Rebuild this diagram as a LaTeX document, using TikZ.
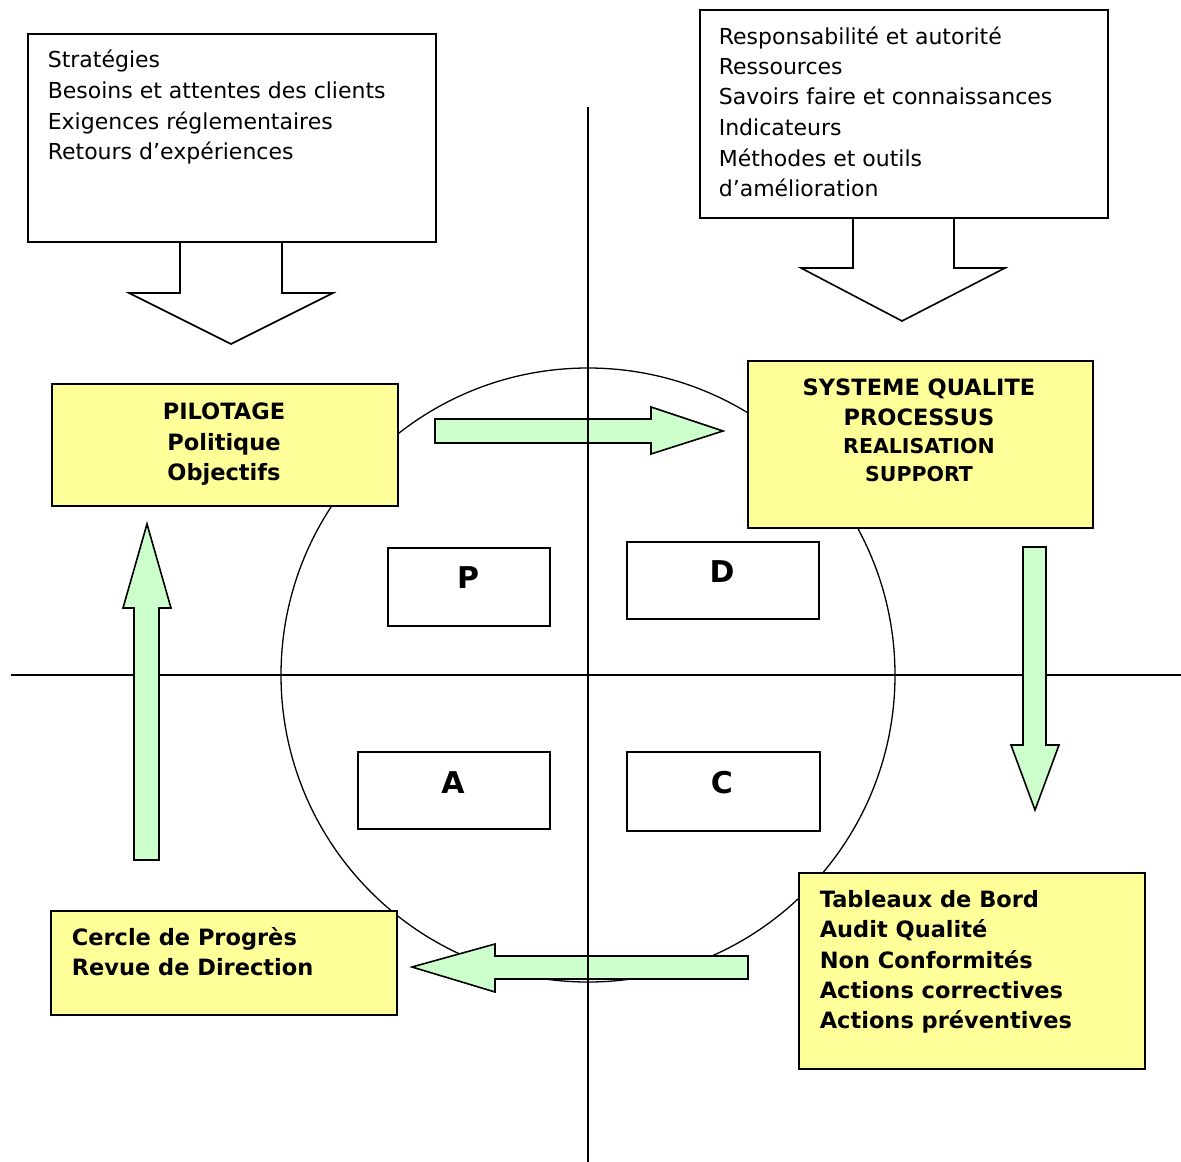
\documentclass[tikz,border=0pt]{standalone}
\usepackage{fontspec}
\setmainfont{DejaVu Sans}
\definecolor{yel}{HTML}{FFFF99}
\definecolor{grn}{HTML}{CCFFCC}
\begin{document}
\begin{tikzpicture}[x=1pt,y=-1pt,line width=1.6pt,
  reg/.style={font=\fontsize{22}{26}\selectfont, inner sep=0pt, anchor=base west},
  bldl/.style={font=\fontsize{22.5}{26}\selectfont\bfseries, inner sep=0pt, anchor=base west},
  bldc/.style={font=\fontsize{22.5}{26}\selectfont\bfseries, inner sep=0pt, anchor=base},
  bldsc/.style={font=\fontsize{20.5}{24}\selectfont\bfseries, inner sep=0pt, anchor=base},
  letter/.style={font=\fontsize{30}{34}\selectfont\bfseries, inner sep=0pt, anchor=base},
  whitebox/.style={draw, fill=white, inner sep=0pt, anchor=north west},
  yelbox/.style={draw, fill=yel, inner sep=0pt, anchor=north west},
  garrow/.style={draw, fill=grn, line join=miter}]
\useasboundingbox (0,0) rectangle (1181,1162);

% circle and horizontal axis
\node[draw, circle, minimum size=614pt, inner sep=0pt, line width=1.3pt] (cyc) at (588,675) {};
\coordinate (hl) at (11,675);
\coordinate (hr) at (1181,675);
\draw (hl) -- (hr);

% green arrows
\draw[garrow] (435,419) -- (651,419) -- (651,407) -- (723,431) -- (651,454) -- (651,443) -- (435,443) -- cycle;
\draw[garrow] (1023,547) -- (1046,547) -- (1046,745) -- (1059,745) -- (1035,810) -- (1011,745) -- (1023,745) -- cycle;
\draw[garrow] (748,956) -- (495,956) -- (495,944) -- (412,967) -- (495,992) -- (495,979) -- (748,979) -- cycle;
\draw[garrow] (134,860) -- (134,608) -- (123,608) -- (147,524) -- (171,608) -- (159,608) -- (159,860) -- cycle;

% vertical axis
\coordinate (vt) at (588,107);
\coordinate (vb) at (588,1162);
\draw (vt) -- (vb);

% top-left callout
\node[whitebox, minimum width=408pt, minimum height=208pt] (cl) at (27,33) {};
\draw[line join=miter] (180,241) -- (180,293) -- (129,293) -- (231,344) -- (333,293) -- (282,293) -- (282,241);
\node[reg] (cl1) at (47,67) {Stratégies};
\node[reg] (cl2) at (47,98) {Besoins et attentes des clients};
\node[reg] (cl3) at (47,129) {Exigences réglementaires};
\node[reg] (cl4) at (47,159) {Retours d’expériences};

% top-right callout
\node[whitebox, minimum width=408pt, minimum height=208pt] (cr) at (699,9) {};
\draw[line join=miter] (853,217) -- (853,268) -- (801,268) -- (902,321) -- (1005,268) -- (954,268) -- (954,217);
\node[reg] (cr1) at (718,44) {Responsabilité et autorité};
\node[reg] (cr2) at (718,74) {Ressources};
\node[reg] (cr3) at (718,104) {Savoirs faire et connaissances};
\node[reg] (cr4) at (718,135) {Indicateurs};
\node[reg] (cr5) at (718,166) {Méthodes et outils};
\node[reg] (cr6) at (718,196) {d’amélioration};

% yellow boxes
\node[yelbox, minimum width=346pt, minimum height=122pt] (pil) at (51,383) {};
\node[bldc] (pil1) at (224,419) {PILOTAGE};
\node[bldc] (pil2) at (224,450) {Politique};
\node[bldc] (pil3) at (224,480) {Objectifs};

\node[yelbox, minimum width=345pt, minimum height=167pt] (sq) at (747,360) {};
\node[bldc] (sq1) at (919,395) {SYSTEME QUALITE};
\node[bldc] (sq2) at (919,425) {PROCESSUS};
\node[bldsc] (sq3) at (919,453) {REALISATION};
\node[bldsc] (sq4) at (919,481) {SUPPORT};

\node[yelbox, minimum width=346pt, minimum height=196pt] (tb) at (798,872) {};
\node[bldl] (tb1) at (819,907) {Tableaux de Bord};
\node[bldl] (tb2) at (819,937) {Audit Qualité};
\node[bldl] (tb3) at (819,968) {Non Conformités};
\node[bldl] (tb4) at (819,998) {Actions correctives};
\node[bldl] (tb5) at (819,1028) {Actions préventives};

\node[yelbox, minimum width=346pt, minimum height=104pt] (cp) at (50,910) {};
\node[bldl] (cp1) at (71,945) {Cercle de Progrès};
\node[bldl] (cp2) at (71,975) {Revue de Direction};

% PDCA boxes
\node[whitebox, minimum width=162pt, minimum height=78pt] (bp) at (387,547) {};
\node[letter] (lp) at (468,588) {P};
\node[whitebox, minimum width=192pt, minimum height=77pt] (bd) at (626,541) {};
\node[letter] (ld) at (722,582) {D};
\node[whitebox, minimum width=192pt, minimum height=77pt] (ba) at (357,751) {};
\node[letter] (la) at (453,793) {A};
\node[whitebox, minimum width=193pt, minimum height=79pt] (bc) at (626,751) {};
\node[letter] (lc) at (722,793) {C};
\end{tikzpicture}
\end{document}
